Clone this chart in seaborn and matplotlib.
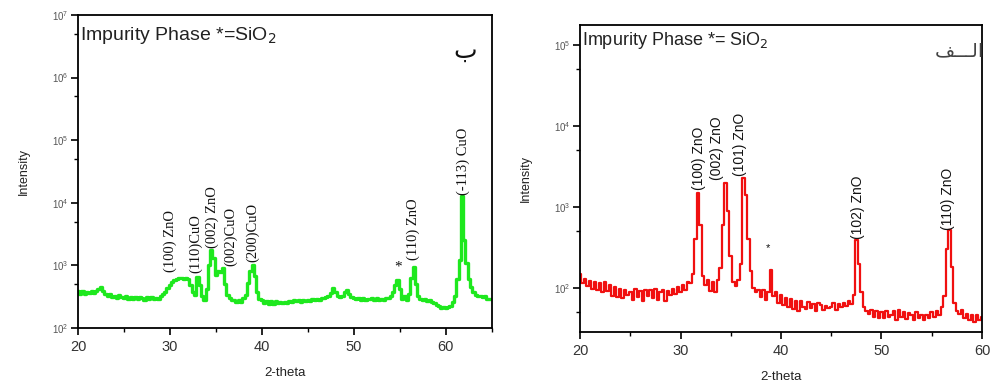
import numpy as np
import pandas as pd
import matplotlib
matplotlib.use("Agg")
import matplotlib.pyplot as plt
import matplotlib.ticker as mticker
import seaborn as sns

sns.set_style("ticks")
plt.rcParams['font.family'] = ['Liberation Sans', 'DejaVu Sans']

# ---------------- data ----------------
# left panel (ب): scan 20-65 deg, 0.25 deg step
left_theta = np.arange(20, 65.001, 0.25)
left_int = [
    390, 355, 385, 350,   # 20
    380, 360, 390, 365,   # 21
    395, 420, 455, 395,   # 22
    355, 330, 345, 312,   # 23
    330, 300, 335, 308,   # 24
    300, 325, 292, 315,   # 25
    295, 318, 288, 310,   # 26
    302, 285, 315, 292,   # 27
    310, 288, 305, 295,   # 28
    320, 345, 380, 430,   # 29
    480, 540, 580, 600,   # 30
    620, 640, 610, 630,   # 31
    600, 480, 380, 340,   # 32
    650, 480, 330, 280,   # 33
    420, 1000, 1780, 1300,  # 34
    700, 820, 780, 920,   # 35
    500, 340, 300, 280,   # 36
    280, 258, 280, 262,   # 37
    300, 340, 520, 820,   # 38
    1000, 680, 380, 290,  # 39
    275, 248, 268, 245,   # 40
    265, 245, 270, 250,   # 41
    262, 248, 258, 250,   # 42
    268, 262, 280, 265,   # 43
    276, 262, 285, 268,   # 44
    285, 270, 292, 280,   # 45
    292, 285, 305, 298,   # 46
    315, 320, 360, 440,   # 47
    380, 320, 310, 330,   # 48
    380, 400, 350, 310,   # 49
    305, 288, 298, 285,   # 50
    300, 282, 295, 288,   # 51
    298, 280, 302, 285,   # 52
    292, 285, 305, 300,   # 53
    320, 380, 480, 580,   # 54
    420, 290, 330, 280,   # 55
    350, 620, 950, 500,   # 56
    320, 295, 275, 290,   # 57
    272, 280, 258, 250,   # 58
    235, 222, 210, 215,   # 59
    205, 220, 228, 260,   # 60
    320, 600, 1200, 13000,  # 61
    2500, 1100, 600, 450,  # 62
    380, 340, 330, 320,   # 63
    310, 330, 295, 290,   # 64
    295,                  # 65
]

# right panel (الف): scan 20-60 deg, 0.25 deg step
right_theta = np.arange(20, 60.001, 0.25)
right_int = [
    150, 115, 128, 105,   # 20
    122, 98, 118, 95,     # 21
    115, 88, 120, 92,     # 22
    108, 80, 102, 78,     # 23
    98, 75, 95, 82,       # 24
    90, 72, 96, 78,       # 25
    92, 70, 95, 80,       # 26
    94, 76, 98, 72,       # 27
    90, 95, 70, 92,       # 28
    82, 98, 85, 104,      # 29
    90, 110, 95, 120,     # 30
    115, 150, 400, 1500,  # 31
    600, 140, 108, 125,   # 32
    92, 118, 90, 125,     # 33
    175, 600, 2000, 900,  # 34
    250, 120, 105, 125,   # 35
    200, 2300, 1400, 400,  # 36
    160, 100, 88, 95,     # 37
    78, 95, 72, 90,       # 38
    165, 80, 88, 65,      # 39
    82, 62, 76, 58,       # 40
    74, 55, 70, 52,       # 41
    70, 58, 55, 68,       # 42
    56, 64, 52, 66,       # 43
    62, 54, 60, 56,       # 44
    58, 66, 54, 64,       # 45
    58, 66, 60, 70,       # 46
    64, 82, 390, 200,     # 47
    90, 58, 52, 48,       # 48
    54, 44, 52, 42,       # 49
    50, 42, 52, 44,       # 50
    46, 52, 40, 54,       # 51
    44, 50, 41, 49,       # 52
    46, 40, 50, 42,       # 53
    47, 40, 46, 43,       # 54
    50, 44, 52, 46,       # 55
    58, 80, 300, 520,     # 56
    180, 66, 52, 48,      # 57
    54, 42, 48, 40,       # 58
    46, 38, 47, 40,       # 59
    44,                   # 60
]

# peak labels: (text, 2-theta, intensity of label base)
left_labels = ["(100) ZnO", "(110)CuO", "(002) ZnO", "(002)CuO", "(200)CuO", "(110) ZnO", "(-113) CuO"]
left_label_x = [30.0, 32.8, 34.6, 36.6, 39.0, 56.5, 61.9]
left_label_y = [780, 760, 1900, 960, 1150, 1200, 13500]
left_star = (54.8, 950)

right_labels = ["(100) ZnO", "(002) ZnO", "(101) ZnO", "(102) ZnO", "(110) ZnO"]
right_label_x = [31.85, 33.6, 35.9, 47.7, 56.6]
right_label_y = [1600, 2150, 2400, 400, 520]
right_star = (38.7, 310)

title_text = "Impurity Phase *=SiO$_2$"
title_text_r = "Impurity Phase *= SiO$_2$"
left_tag = "ب"
right_tag = "\ufed2\u0640\u0640\u0640\ufedf\ufe8d"   # الـــف (visual order)

# ---------------- figure ----------------
fig = plt.figure(figsize=(9.93, 3.82), dpi=100)
axL = fig.add_axes([0.0785, 0.1414, 0.4169, 0.8194])
axR = fig.add_axes([0.5841, 0.1309, 0.4048, 0.8037])

dfL = pd.DataFrame({"2-theta": left_theta, "Intensity": left_int})
dfR = pd.DataFrame({"2-theta": right_theta, "Intensity": right_int})

sns.lineplot(data=dfL, x="2-theta", y="Intensity", ax=axL, color="#1ee81e",
             linewidth=2.4, drawstyle="steps-mid")
sns.lineplot(data=dfR, x="2-theta", y="Intensity", ax=axR, color="#f01010",
             linewidth=1.6, drawstyle="steps-mid")

for ax, xmax, ylim in [(axL, 65, (1e2, 1e7)), (axR, 60, (28.6, 1.77e5))]:
    ax.set_yscale("log")
    ax.set_xlim(20, xmax)
    ax.set_ylim(*ylim)
    ax.xaxis.set_major_locator(mticker.MultipleLocator(10))
    ax.xaxis.set_minor_locator(mticker.MultipleLocator(5))
    ax.yaxis.set_major_locator(mticker.LogLocator(base=10, numticks=12))
    ax.yaxis.set_minor_locator(mticker.LogLocator(base=10, subs=[5.0], numticks=12))
    ax.yaxis.set_minor_formatter(mticker.NullFormatter())
    ax.tick_params(which="major", direction="out", length=5, width=1.2, color="black")
    ax.tick_params(which="minor", direction="out", length=3, width=1.0, color="black")
    ax.tick_params(axis="x", labelsize=10.5, labelcolor="#333333", pad=4)
    ax.tick_params(axis="y", labelsize=7, labelcolor="#555555", pad=2)
    for s in ax.spines.values():
        s.set_linewidth(1.3)
        s.set_color("black")
    ax.set_xlabel("2-theta", fontsize=9.5, color="#222222", labelpad=9)
    ax.set_ylabel("Intensity", fontsize=9, color="#222222", labelpad=16)

# left annotations (serif)
for t, x, y in zip(left_labels, left_label_x, left_label_y):
    axL.text(x, y, t, rotation=90, ha="center", va="bottom", fontsize=10.5,
             family=["Liberation Serif", "DejaVu Serif"], color="#111111")
axL.text(left_star[0], left_star[1], "*", ha="center", va="center", fontsize=11,
         family=["Liberation Serif"], color="#111111")
axL.text(0.005, 0.935, title_text, transform=axL.transAxes, ha="left", va="center",
         fontsize=14, color="#222222")
axL.text(0.935, 0.885, left_tag, transform=axL.transAxes, ha="center", va="center",
         fontsize=18, family=["DejaVu Sans"], color="#111111")

# right annotations (sans)
for t, x, y in zip(right_labels, right_label_x, right_label_y):
    axR.text(x, y, t, rotation=90, ha="center", va="bottom", fontsize=10,
             color="#111111")
axR.text(right_star[0], right_star[1], "*", ha="center", va="center", fontsize=8,
         color="#111111")
axR.text(0.005, 0.95, title_text_r, transform=axR.transAxes, ha="left", va="center",
         fontsize=13, color="#222222")
axR.text(0.945, 0.915, right_tag, transform=axR.transAxes, ha="center", va="center",
         fontsize=14, family=["DejaVu Sans"], color="#444444")

fig.savefig("out.png", dpi=100)
